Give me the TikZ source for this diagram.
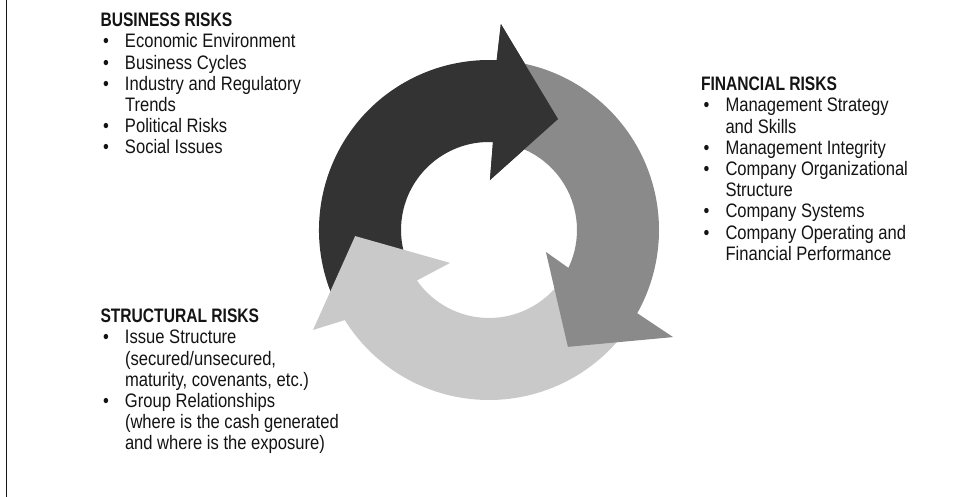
\documentclass[tikz,border=0pt]{standalone}
\usepackage{fontspec}
\setmainfont{Liberation Sans}[FakeStretch=0.85,BoldFeatures={FakeStretch=0.8}]
\definecolor{arrdark}{HTML}{333333}
\definecolor{arrmid}{HTML}{8A8A8A}
\definecolor{arrlight}{HTML}{C9C9C9}
\definecolor{ink}{HTML}{141414}
\newcommand{\itm}{\makebox[24.5pt][l]{\hspace{2.5pt}\textbullet}}
\newcommand{\cnt}{\hspace*{24.5pt}}
\begin{document}
\begin{tikzpicture}[x=1pt,y=1pt,
  txt/.style={inner sep=0pt,outer sep=0pt,text=ink,anchor=base west,
    font=\fontsize{19.5pt}{21.2pt}\selectfont}]
\useasboundingbox (0,0) rectangle (960,497);
\fill[white] (0,0) rectangle (960,497);
% left frame line
\coordinate (ftop) at (6.7,497);
\coordinate (fbot) at (6.7,0);
\draw[line width=1.3pt,ink] (ftop) -- (fbot);
% cycle of arrows
\begin{scope}[shift={(489,267)}]
  \fill[arrdark] (207:170) arc[start angle=207,end angle=87.4,radius=170]
    -- (86.7:206.3) -- (58.1:130.7) -- (88.9:50) -- (87.4:88)
    arc[start angle=87.4,end angle=207,radius=88] -- cycle;
  \fill[arrlight] (-40:170) arc[start angle=-40,end angle=-148,radius=170]
    -- (-150.4:202.4) -- (182.6:134) -- (220.2:51) -- (-145:88)
    arc[start angle=-145,end angle=-40,radius=88] -- cycle;
  \fill[arrmid] (80:170) arc[start angle=80,end angle=-29.3,radius=170]
    -- (-30.2:212.9) -- (-55.97:141) -- (-21.1:61) -- (-25.5:88)
    arc[start angle=-25.5,end angle=80,radius=88] -- cycle;
  \fill[arrdark] (87.4:170) -- (86.7:206.3) -- (58.1:130.7) -- (88.9:50)
    -- (87.4:88) -- cycle;
\end{scope}
% texts
\node[txt] (business) at (100.5,470.3) {\parbox[t]{260pt}{\raggedright
  \textbf{BUSINESS RISKS}\\
  \itm Economic Environment\\
  \itm Business Cycles\\
  \itm Industry and Regulatory\\
  \cnt Trends\\
  \itm Political Risks\\
  \itm Social Issues}};
\node[txt] (financial) at (701,406.3) {\parbox[t]{250pt}{\raggedright
  \textbf{FINANCIAL RISKS}\\
  \itm Management Strategy\\
  \cnt and Skills\\
  \itm Management Integrity\\
  \itm Company Organizational\\
  \cnt Structure\\
  \itm Company Systems\\
  \itm Company Operating and\\
  \cnt Financial Performance}};
\node[txt] (structural) at (100.5,174.3) {\parbox[t]{260pt}{\raggedright
  \textbf{STRUCTURAL RISKS}\\
  \itm Issue Structure\\
  \cnt (secured/unsecured,\\
  \cnt maturity, covenants, etc.)\\
  \itm Group Relationships\\
  \cnt (where is the cash generated\\
  \cnt and where is the exposure)}};
\end{tikzpicture}
\end{document}
